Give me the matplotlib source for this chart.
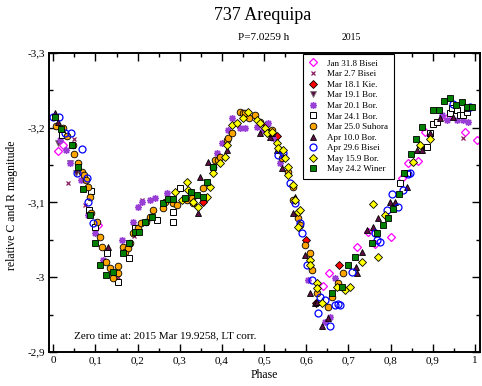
import matplotlib
matplotlib.use("Agg")
import matplotlib.pyplot as plt
from matplotlib.ticker import MultipleLocator, FuncFormatter

plt.rcParams["font.family"] = ["Liberation Serif", "DejaVu Serif"]

# --- data (phase, relative magnitude) ---
jan31_phase = [0.011, 0.023, 0.106, 0.640, 0.654, 0.720, 0.746, 0.763, 0.801, 0.827,
               0.841, 0.865, 0.881, 0.934, 0.976, 1.005]
jan31_mag = [-3.169, -3.177, -3.070, -2.988, -3.006, -3.040, -3.061, -3.045, -3.054, -3.133,
             -3.153, -3.156, -3.194, -3.213, -3.194, -3.184]

mar02_phase = [0.049, 0.035, 0.075, 0.210, 0.191, 0.153, 0.972]
mar02_mag = [-3.185, -3.126, -3.097, -3.103, -3.055, -3.000, -3.186]

mar18_phase = [0.355, 0.504, 0.531, 0.600, 0.623, 0.677]
mar18_mag = [-3.101, -3.204, -3.189, -3.050, -2.966, -3.016]

mar19_phase = [0.011, 0.040, 0.054]
mar19_mag = [-3.180, -3.153, -3.139]

mar20_phase = [0.016, 0.030, 0.040, 0.066, 0.082, 0.099, 0.118, 0.163, 0.189, 0.201,
               0.210, 0.229, 0.241, 0.270, 0.388, 0.400, 0.414, 0.424, 0.443, 0.455,
               0.483, 0.497, 0.509, 0.521, 0.538, 0.604, 0.644, 0.656, 0.668, 0.922,
               0.934, 0.948, 0.957, 0.972, 0.983]
mar20_mag = [-3.184, -3.170, -3.153, -3.130, -3.083, -3.059, -3.023, -3.050, -3.074, -3.094,
             -3.101, -3.103, -3.106, -3.113, -3.166, -3.180, -3.197, -3.213, -3.200, -3.200,
             -3.201, -3.197, -3.206, -3.186, -3.153, -2.996, -2.940, -2.947, -2.999, -3.217,
             -3.210, -3.224, -3.210, -3.210, -3.208]

mar24_phase = [0.021, 0.085, 0.089, 0.099, 0.127, 0.153, 0.180, 0.194, 0.246, 0.284,
               0.284, 0.300, 0.822, 0.839, 0.869, 0.886, 0.893, 0.900, 0.910, 0.940,
               0.945, 0.957, 0.964, 0.972, 0.981]
mar24_mag = [-3.190, -3.090, -3.115, -3.067, -3.032, -2.994, -3.026, -3.066, -3.077, -3.087,
             -3.074, -3.119, -3.126, -3.139, -3.170, -3.174, -3.193, -3.205, -3.208, -3.220,
             -3.226, -3.224, -3.217, -3.217, -3.221]

mar25_phase = [0.006, 0.023, 0.032, 0.047, 0.049, 0.059, 0.068, 0.073, 0.078, 0.082,
               0.087, 0.089, 0.104, 0.111, 0.115, 0.125, 0.134, 0.141, 0.153, 0.153,
               0.165, 0.170, 0.177, 0.182, 0.189, 0.201, 0.208, 0.220, 0.229, 0.236,
               0.260, 0.265, 0.284, 0.293, 0.317, 0.329, 0.331, 0.355, 0.379, 0.383,
               0.391, 0.395, 0.412, 0.414, 0.424, 0.443, 0.450, 0.455, 0.464, 0.478,
               0.490, 0.514, 0.519, 0.542, 0.556, 0.568, 0.568, 0.580, 0.585, 0.597,
               0.609, 0.613, 0.625, 0.651, 0.661, 0.675, 0.687]
mar25_mag = [-3.202, -3.200, -3.189, -3.177, -3.165, -3.153, -3.141, -3.137, -3.130, -3.121,
             -3.107, -3.086, -3.074, -3.054, -3.040, -3.020, -3.012, -2.999, -3.006, -3.015,
             -3.040, -3.034, -3.039, -3.046, -3.059, -3.066, -3.073, -3.074, -3.081, -3.090,
             -3.093, -3.101, -3.099, -3.097, -3.103, -3.106, -3.099, -3.119, -3.147, -3.157,
             -3.157, -3.161, -3.184, -3.186, -3.193, -3.221, -3.220, -3.220, -3.213, -3.217,
             -3.208, -3.194, -3.197, -3.160, -3.141, -3.121, -3.103, -3.079, -3.070, -3.043,
             -3.032, -3.010, -2.979, -2.960, -2.974, -2.992, -3.006]

apr10_phase = [0.004, 0.011, 0.130, 0.343, 0.348, 0.367, 0.412, 0.490, 0.514, 0.519,
               0.531, 0.542, 0.568, 0.573, 0.597, 0.609, 0.620, 0.625, 0.637, 0.651,
               0.718, 0.720, 0.732, 0.744, 0.758, 0.770, 0.798, 0.810, 0.839, 0.862,
               0.874, 0.893, 0.917, 0.948, 0.981]
apr10_mag = [-3.220, -3.208, -3.040, -3.086, -3.134, -3.154, -3.170, -3.193, -3.188, -3.193,
             -3.170, -3.146, -3.086, -3.107, -3.030, -2.979, -2.966, -2.967, -2.935, -2.945,
             -3.014, -3.006, -3.034, -3.063, -3.067, -3.079, -3.101, -3.101, -3.121, -3.170,
             -3.170, -3.193, -3.213, -3.214, -3.226]

apr29_phase = [0.000, 0.014, 0.028, 0.042, 0.056, 0.068, 0.080, 0.082, 0.094, 0.533,
               0.545, 0.561, 0.573, 0.585, 0.590, 0.601, 0.613, 0.628, 0.632, 0.644,
               0.656, 0.668, 0.675, 0.680, 0.708, 0.763, 0.768, 0.774, 0.791, 0.803,
               0.817, 0.829, 0.841, 0.846, 0.948, 0.988]
apr29_mag = [-3.214, -3.214, -3.193, -3.193, -3.139, -3.172, -3.133, -3.101, -3.073, -3.164,
             -3.166, -3.126, -3.099, -3.073, -3.059, -3.016, -2.996, -2.952, -2.974, -2.970,
             -2.935, -2.963, -2.964, -2.963, -3.007, -3.059, -3.050, -3.047, -3.090, -3.111,
             -3.094, -3.117, -3.138, -3.139, -3.232, -3.228]

may15_phase = [0.289, 0.305, 0.317, 0.319, 0.331, 0.343, 0.364, 0.372, 0.379, 0.395,
               0.407, 0.412, 0.424, 0.436, 0.450, 0.462, 0.483, 0.490, 0.502, 0.507,
               0.519, 0.531, 0.533, 0.545, 0.549, 0.556, 0.556, 0.568, 0.573, 0.580,
               0.580, 0.585, 0.609, 0.609, 0.625, 0.625, 0.637, 0.673, 0.692, 0.703,
               0.732, 0.758, 0.770, 0.786, 0.853, 0.869, 0.893]
may15_mag = [-3.114, -3.103, -3.127, -3.117, -3.101, -3.094, -3.107, -3.121, -3.139, -3.153,
             -3.161, -3.177, -3.204, -3.206, -3.213, -3.221, -3.210, -3.206, -3.200, -3.193,
             -3.194, -3.180, -3.173, -3.170, -3.160, -3.147, -3.137, -3.123, -3.103, -3.087,
             -3.067, -3.090, -3.023, -3.016, -2.992, -2.986, -2.966, -2.987, -2.983, -2.987,
             -3.020, -3.098, -3.027, -3.083, -3.154, -3.177, -3.185]

may24_phase = [0.004, 0.018, 0.044, 0.059, 0.070, 0.087, 0.099, 0.111, 0.125, 0.141,
               0.165, 0.180, 0.194, 0.203, 0.217, 0.234, 0.260, 0.272, 0.284, 0.312,
               0.327, 0.341, 0.355, 0.364, 0.379, 0.661, 0.685, 0.699, 0.715, 0.756,
               0.768, 0.782, 0.794, 0.805, 0.820, 0.832, 0.848, 0.860, 0.874, 0.900,
               0.915, 0.926, 0.940, 0.955, 0.969, 0.981, 0.992]
may24_mag = [-3.214, -3.198, -3.177, -3.147, -3.118, -3.083, -3.046, -3.016, -3.003, -3.007,
             -3.032, -3.046, -3.061, -3.061, -3.074, -3.081, -3.099, -3.105, -3.105, -3.106,
             -3.114, -3.110, -3.107, -3.127, -3.147, -2.979, -2.987, -3.016, -3.027, -3.046,
             -3.059, -3.070, -3.079, -3.091, -3.111, -3.139, -3.165, -3.185, -3.201, -3.224,
             -3.224, -3.236, -3.240, -3.230, -3.234, -3.228, -3.228]

x_ticks = [0, 0.1, 0.2, 0.3, 0.4, 0.5, 0.6, 0.7, 0.8, 0.9, 1.0]
y_ticks = [-3.3, -3.2, -3.1, -3.0, -2.9]

series = [
    ("Jan 31.8 Bisei", jan31_phase, jan31_mag,
     dict(marker="D", ms=3.6, mfc="none", mec="#FF00FF", mew=0.9)),
    ("Mar 2.7 Bisei", mar02_phase, mar02_mag,
     dict(marker="x", ms=3.2, mec="#8B1C62", mew=0.9)),
    ("Mar 18.1 Kie.", mar18_phase, mar18_mag,
     dict(marker="D", ms=3.6, mfc="#FF0000", mec="black", mew=0.6)),
    ("Mar 19.1 Bor.", mar19_phase, mar19_mag,
     dict(marker="v", ms=4.8, mfc="#5A1040", mec="#777777", mew=0.6)),
    ("Mar 20.1 Bor.", mar20_phase, mar20_mag,
     dict(marker=(8, 2, 0), ms=5.0, mec="#9A3FD6", mew=1.0)),
    ("Mar 24.1 Bor.", mar24_phase, mar24_mag,
     dict(marker="s", ms=4.2, mfc="white", mec="black", mew=0.7)),
    ("Mar 25.0 Suhora", mar25_phase, mar25_mag,
     dict(marker="o", ms=4.8, mfc="#FFA500", mec="black", mew=0.6)),
    ("Apr 10.0 Bor.", apr10_phase, apr10_mag,
     dict(marker="^", ms=5.0, mfc="#5C0E42", mec="black", mew=0.6)),
    ("Apr 29.6 Bisei", apr29_phase, apr29_mag,
     dict(marker="o", ms=5.0, mfc="none", mec="#0000FF", mew=0.9)),
    ("May 15.9 Bor.", may15_phase, may15_mag,
     dict(marker="D", ms=3.6, mfc="#FFFF00", mec="black", mew=0.6)),
    ("May 24.2 Winer", may24_phase, may24_mag,
     dict(marker="s", ms=4.6, mfc="#008000", mec="black", mew=0.6)),
]

fig = plt.figure(figsize=(4.82, 3.86), dpi=100)
ax = fig.add_axes([0.1023, 0.0881, 0.8936, 0.7746])

for label, ph, mag, style in series:
    ax.plot(ph, mag, linestyle="none", label=label, **style)

ax.set_xlim(-0.0095, 1.012)
ax.set_ylim(-2.9, -3.3)
ax.set_xticks(x_ticks)
ax.set_yticks(y_ticks)
ax.xaxis.set_minor_locator(MultipleLocator(0.05))
ax.yaxis.set_minor_locator(MultipleLocator(0.05))
comma = FuncFormatter(lambda v, pos: ("%g" % round(v, 2)).replace(".", ","))
ax.xaxis.set_major_formatter(comma)
ax.yaxis.set_major_formatter(comma)
ax.tick_params(which="both", direction="in", top=True, right=True, labelsize=8, width=1.0)
ax.tick_params(which="major", length=6, pad=3)
ax.tick_params(which="minor", length=3)
for sp in ax.spines.values():
    sp.set_linewidth(1.4)

ax.text(0.049, -2.922, "Zero time at: 2015 Mar 19.9258, LT corr.", fontsize=8, va="center")

leg = ax.legend(loc="upper left", bbox_to_anchor=(0.589, 0.997), borderaxespad=0,
                fontsize=6.5, numpoints=1, handlelength=1.0, handletextpad=1.1,
                labelspacing=0.25, borderpad=0.6, fancybox=False, framealpha=1,
                edgecolor="black")
leg.get_frame().set_linewidth(0.8)

fig.text(263 / 482, 1 - 15 / 386, "737 Arequipa", fontsize=13, ha="center", va="center")
fig.text(264 / 482, 1 - 37 / 386, "P=7.0259 h", fontsize=8, ha="center", va="center")
fig.text(351 / 482, 1 - 37 / 386, "2015", fontsize=7, ha="center", va="center")
fig.text(264 / 482, 1 - 375 / 386, "Phase", fontsize=8.5, ha="center", va="center")
fig.text(12 / 482, 1 - 205 / 386, "relative C and R magnitude", fontsize=8.5,
         ha="center", va="center", rotation=90)

fig.savefig("out.png", dpi=100)
